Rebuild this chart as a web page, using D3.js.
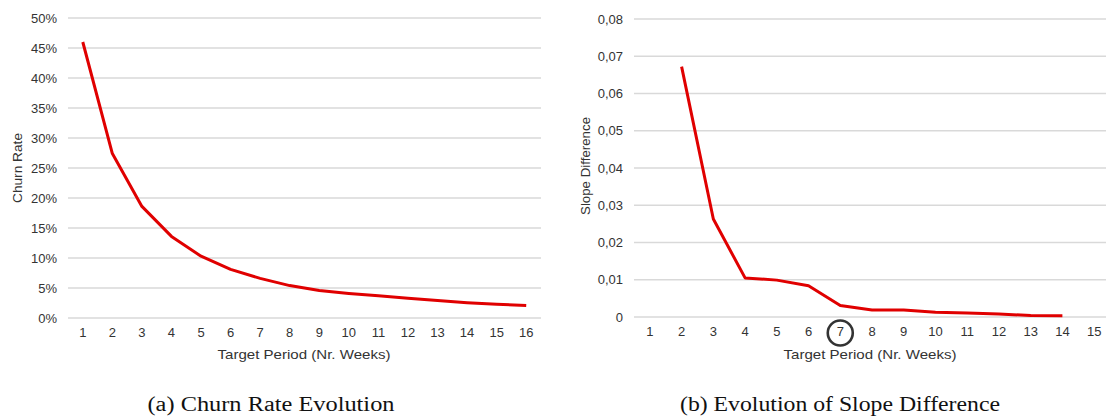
<!DOCTYPE html>
<html>
<head>
<meta charset="utf-8">
<script src="https://cdn.jsdelivr.net/npm/d3@7"></script>
<style>
  html, body { margin: 0; padding: 0; background: #fff; }
  svg { display: block; }
  .tick text { font-family: "Liberation Sans", Arial, sans-serif; font-size: 13px; fill: #333; }
  .axis-title { font-family: "Liberation Sans", Arial, sans-serif; font-size: 13px; fill: #333; }
  .caption { font-family: "Liberation Serif", "Times New Roman", serif; font-size: 20px; fill: #111; }
</style>
</head>
<body>
<svg id="chart" width="1106" height="419"></svg>
<script>
// Churn rate by target period (weeks)
const churnWeeks = [1, 2, 3, 4, 5, 6, 7, 8, 9, 10, 11, 12, 13, 14, 15, 16];
const churnRate = [0.46, 0.274, 0.186, 0.136, 0.103, 0.081, 0.066, 0.054, 0.046, 0.041, 0.037, 0.033, 0.029, 0.0255, 0.023, 0.021];
const churnTicks = [0, 0.05, 0.10, 0.15, 0.20, 0.25, 0.30, 0.35, 0.40, 0.45, 0.50];

// Slope difference between consecutive target periods
const slopeWeeks = [1, 2, 3, 4, 5, 6, 7, 8, 9, 10, 11, 12, 13, 14, 15];
const slopeDiff = [null, 0.0672, 0.0263, 0.0105, 0.0099, 0.0084, 0.0031, 0.0019, 0.0019, 0.0013, 0.0011, 0.0008, 0.0004, 0.00035, null];
const slopeTicks = [0, 0.01, 0.02, 0.03, 0.04, 0.05, 0.06, 0.07, 0.08];
const chosenWeek = 7;

const svg = d3.select("#chart");
const fmtComma = d => d === 0 ? "0" : d3.format(".2f")(d).replace(".", ",");

function drawPanel(cfg) {
  const g = svg.append("g");
  const x = d3.scaleBand().domain(cfg.weeks).range(cfg.xRange).paddingInner(0).paddingOuter(0);
  const y = d3.scaleLinear().domain(cfg.yDomain).range(cfg.yRange);

  // horizontal gridlines
  g.append("g").selectAll("line").data(cfg.yTicks).join("line")
    .attr("x1", cfg.xRange[0]).attr("x2", cfg.xRange[1])
    .attr("y1", d => y(d)).attr("y2", d => y(d))
    .attr("stroke", "#d9d9d9").attr("stroke-width", 1.3);

  // y axis labels
  const yAxis = d3.axisLeft(y).tickValues(cfg.yTicks).tickFormat(cfg.yFormat).tickSize(0).tickPadding(0);
  g.append("g").attr("transform", `translate(${cfg.yLabelX},0)`).call(yAxis)
    .call(a => a.select(".domain").remove());

  // x axis labels
  const xAxis = d3.axisBottom(x).tickSize(0).tickPadding(0);
  g.append("g").attr("transform", `translate(0,${cfg.xLabelY})`).call(xAxis)
    .call(a => a.select(".domain").remove());

  // data line
  const pts = cfg.weeks.map((w, i) => ({ w, v: cfg.values[i] })).filter(d => d.v != null);
  g.append("path").datum(pts)
    .attr("fill", "none").attr("stroke", "#e00000").attr("stroke-width", 3)
    .attr("stroke-linejoin", "round").attr("stroke-linecap", "butt")
    .attr("d", d3.line().x(d => x(d.w) + x.bandwidth() / 2).y(d => y(d.v)));

  // axis titles
  g.append("text").attr("class", "axis-title")
    .attr("x", cfg.xTitleX).attr("y", 359)
    .attr("text-anchor", "middle")
    .attr("textLength", 173).attr("lengthAdjust", "spacingAndGlyphs")
    .text("Target Period (Nr. Weeks)");
  g.append("text").attr("class", "axis-title")
    .attr("transform", `translate(${cfg.yTitleX},${cfg.yTitleY}) rotate(-90)`)
    .attr("text-anchor", "middle")
    .attr("textLength", cfg.yTitleLen).attr("lengthAdjust", "spacingAndGlyphs")
    .text(cfg.yTitle);

  // caption
  g.append("text").attr("class", "caption")
    .attr("x", cfg.captionX).attr("y", 411).attr("text-anchor", "middle")
    .attr("textLength", cfg.captionLen).attr("lengthAdjust", "spacingAndGlyphs")
    .text(cfg.caption);

  return { g, x, y };
}

drawPanel({
  weeks: churnWeeks, values: churnRate, yTicks: churnTicks,
  xRange: [68, 541], yDomain: [0, 0.5], yRange: [318, 18],
  yFormat: d3.format(".0%"), yLabelX: 57, xLabelY: 328,
  xTitleX: 304,
  yTitle: "Churn Rate", yTitleX: 22, yTitleY: 168, yTitleLen: 70,
  caption: "(a) Churn Rate Evolution", captionX: 271, captionLen: 247
});

const right = drawPanel({
  weeks: slopeWeeks, values: slopeDiff, yTicks: slopeTicks,
  xRange: [634, 1110], yDomain: [0, 0.08], yRange: [317, 19],
  yFormat: fmtComma, yLabelX: 623, xLabelY: 327,
  xTitleX: 870,
  yTitle: "Slope Difference", yTitleX: 590, yTitleY: 166, yTitleLen: 98,
  caption: "(b) Evolution of Slope Difference", captionX: 840, captionLen: 320
});

// highlight the selected target period
right.g.append("circle")
  .attr("cx", right.x(chosenWeek) + right.x.bandwidth() / 2)
  .attr("cy", 333).attr("r", 12.5)
  .attr("fill", "none").attr("stroke", "#333").attr("stroke-width", 2.6);
</script>
</body>
</html>
